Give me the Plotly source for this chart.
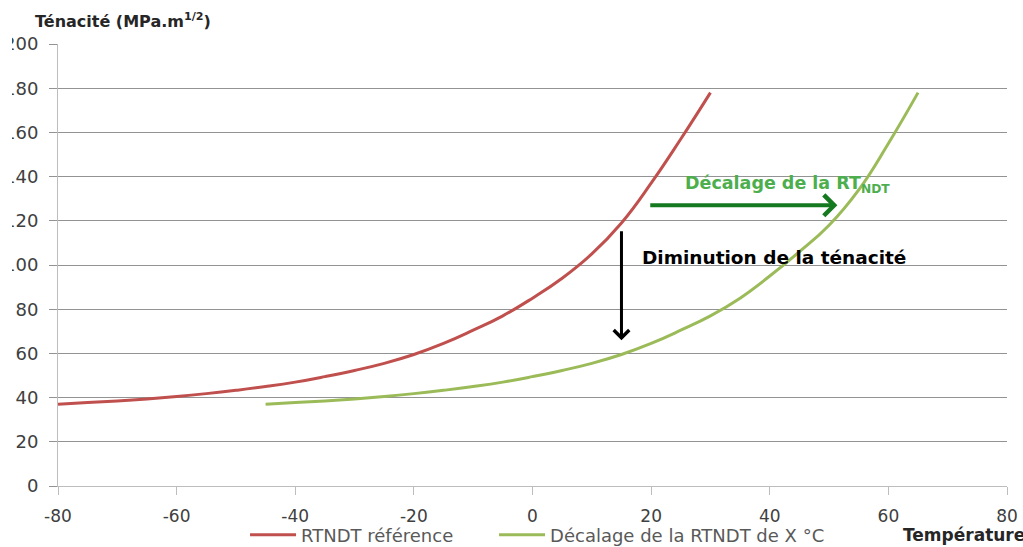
import plotly.graph_objects as go

# Data (temperature °C, toughness MPa.m^1/2)
temp_ref = [-80, -75, -70, -65, -60, -55, -50, -45, -40, -35, -30, -25, -20,
            -15, -10, -5, 0, 5, 10, 15, 20, 25, 30]
ten_ref = [37, 37.8, 38.5, 39.4, 40.5, 41.8, 43.3, 45, 47, 49.5, 52.3, 55.5, 59.5,
           64.5, 70.5, 77, 85, 94, 105, 119, 137, 157, 178]
temp_shift = [-45, -40, -35, -30, -25, -20, -15, -10, -5, 0, 5, 10, 15,
              20, 25, 30, 35, 40, 45, 50, 55, 60, 65]
ten_shift = [37, 37.8, 38.5, 39.4, 40.5, 41.8, 43.3, 45, 47, 49.5, 52.3, 55.5, 59.5,
             64.5, 70.5, 77, 85, 95, 106, 118, 134, 155, 178]

name_ref = "RTNDT référence"
name_shift = "Décalage de la RTNDT de X °C"

x_ticks = [-80, -60, -40, -20, 0, 20, 40, 60, 80]
y_ticks = [0, 20, 40, 60, 80, 100, 120, 140, 160, 180, 200]

FONT = "DejaVu Sans"
GRID = "#939393"
AXIS = "#bdbdbd"
TICKC = "#404040"
LEG_FONT = dict(family=FONT, size=18, color="#595959")

fig = go.Figure()
fig.add_trace(go.Scatter(x=temp_ref, y=ten_ref, mode="lines", name=name_ref, legend="legend",
                         line=dict(color="#C0504D", width=3, shape="spline", smoothing=1.3)))
fig.add_trace(go.Scatter(x=temp_shift, y=ten_shift, mode="lines", name=name_shift, legend="legend2",
                         line=dict(color="#9BBB59", width=3, shape="spline", smoothing=1.3)))

fig.update_xaxes(range=[-80, 80], tickvals=x_ticks, ticktext=[str(v) for v in x_ticks],
                 showgrid=False, zeroline=False, showline=True, linecolor=AXIS, linewidth=1,
                 ticks="outside", ticklen=8, tickcolor=AXIS, ticklabelstandoff=7,
                 automargin=False,
                 tickfont=dict(family=FONT, size=17, color=TICKC))
fig.update_yaxes(range=[0, 200], tickvals=y_ticks, ticktext=[str(v) for v in y_ticks],
                 showgrid=True, gridcolor=GRID, gridwidth=1, zeroline=False,
                 showline=True, linecolor=AXIS, linewidth=1,
                 ticks="outside", ticklen=8, tickcolor=GRID, ticklabelstandoff=7,
                 automargin=False,
                 tickfont=dict(family=FONT, size=18, color=TICKC))

# arrows
fig.add_annotation(xref="x", yref="y", axref="x", ayref="y",
                   x=51.4, y=127, ax=19.6, ay=127, showarrow=True, text="",
                   arrowhead=4, arrowsize=1, arrowwidth=4, arrowcolor="#157A1F")
fig.add_annotation(xref="x", yref="y", axref="x", ayref="y",
                   x=15, y=66, ax=15, ay=116, showarrow=True, text="",
                   arrowhead=4, arrowsize=1, arrowwidth=3, arrowcolor="#000000")
# texts
fig.add_annotation(xref="x", yref="y", x=25.3, y=136.5, xanchor="left", yanchor="middle",
                   showarrow=False, text="<b>Décalage de la RT<sub>NDT</sub></b>",
                   font=dict(family=FONT, size=17.5, color="#4DAE4D"))
fig.add_annotation(xref="x", yref="y", x=18.2, y=103.4, xanchor="left", yanchor="middle",
                   showarrow=False, text="<b>Diminution de la ténacité</b>",
                   font=dict(family=FONT, size=18.5, color="#000000"))
fig.add_annotation(xref="paper", yref="paper", x=0, y=1, xshift=-25, yshift=24,
                   xanchor="left", yanchor="middle", showarrow=False,
                   text="<b>Ténacité (MPa.m<sup>1/2</sup>)</b>",
                   font=dict(family=FONT, size=16, color="#262626"))
fig.add_annotation(xref="paper", yref="paper", x=0.888, y=0, yshift=-49,
                   xanchor="left", yanchor="middle", showarrow=False,
                   text="<b>Température</b>",
                   font=dict(family=FONT, size=17, color="#262626"))

legend_common = dict(orientation="h", xref="container", yref="container",
                     y=0.022, xanchor="left", yanchor="middle", itemwidth=46,
                     font=LEG_FONT, bgcolor="rgba(0,0,0,0)")
fig.update_layout(width=1011, height=547,
                  margin=dict(l=46, r=16, t=44, b=61),
                  plot_bgcolor="white", paper_bgcolor="white",
                  showlegend=True,
                  legend=dict(x=0.2305, **legend_common),
                  legend2=dict(x=0.4768, **legend_common))

post = ("document.body.style.margin='0px';document.body.style.overflow='hidden';"
        "document.getElementById('{plot_id}').style.marginLeft='12px';")
fig.write_html("out.html", post_script=post)
